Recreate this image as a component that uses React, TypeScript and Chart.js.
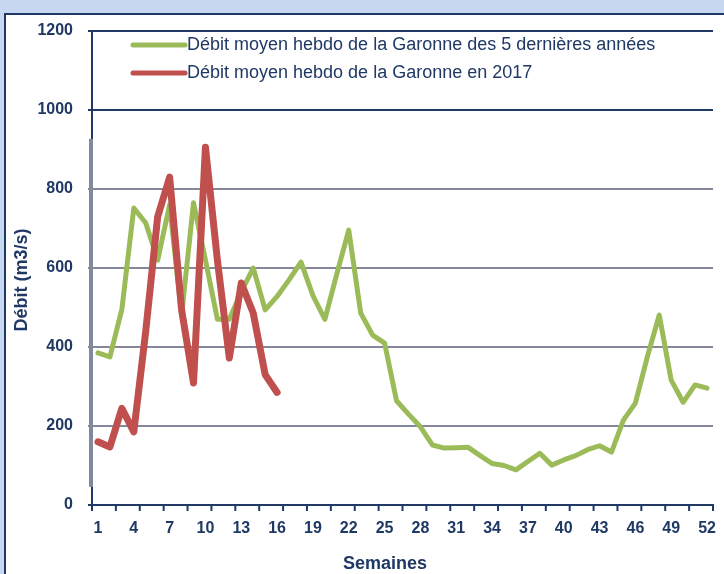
import React, { useEffect, useRef } from "react";
import { Chart, registerables } from "chart.js";

Chart.register(...registerables);

const weeks: string[] = Array.from({ length: 52 }, (_, i) => String(i + 1));

const greenLabel = "Débit moyen hebdo de la Garonne des 5 dernières années";
const redLabel = "Débit moyen hebdo de la Garonne en 2017";
const xTitle = "Semaines";
const yTitle = "Débit (m3/s)";

const greenValues: number[] = [
  385, 375, 495, 752, 714, 620, 760, 480, 765, 620,
  470, 470, 540, 600, 494, 528, 570, 615, 530, 470,
  585, 696, 486, 430, 410, 264, 230, 198, 152, 144,
  145, 146, 125, 105, 100, 89, 110, 131, 101, 114,
  125, 140, 150, 134, 215, 258, 375, 481, 316, 260,
  304, 296,
];

const redValues: number[] = [
  160, 147, 245, 185, 440, 730, 830, 495, 309, 906,
  620, 372, 562, 486, 330, 285,
];

const yTicks: number[] = [0, 200, 400, 600, 800, 1000, 1200];

const NAVY = "#1f3864";
const GRAY = "#85889a";
const GREEN = "#9bbb59";
const RED = "#c0504d";
const FONT = "'Liberation Sans', Arial, sans-serif";

const decorPlugin = {
  id: "decor",
  afterDraw(chart: any) {
    const { ctx, chartArea, scales } = chart;
    const xs = scales.x;
    const ys = scales.y;
    const band = xs.getPixelForValue(1) - xs.getPixelForValue(0);
    ctx.save();
    // x tick marks every 2 weeks (between categories)
    ctx.strokeStyle = NAVY;
    ctx.lineWidth = 2;
    for (let k = 0; k <= weeks.length / 2; k++) {
      const x = xs.getPixelForValue(0) - band / 2 + k * 2 * band;
      ctx.beginPath();
      ctx.moveTo(x, chartArea.bottom);
      ctx.lineTo(x, chartArea.bottom + 6);
      ctx.stroke();
    }
    // gray vertical axis fragment
    ctx.fillStyle = GRAY;
    const yTop = ys.getPixelForValue(927);
    const yBot = ys.getPixelForValue(46);
    ctx.fillRect(chartArea.left - 3, yTop, 4, yBot - yTop);

    // legend
    const items = chart.data.datasets.map((d: any) => ({ label: d.label, color: d.borderColor }));
    const lx0 = chartArea.left + 41;
    const lx1 = chartArea.left + 93;
    items.forEach((it: any, i: number) => {
      const y = chartArea.top + 14 + i * 28;
      ctx.strokeStyle = it.color;
      ctx.lineWidth = 5;
      ctx.lineCap = "round";
      ctx.beginPath();
      ctx.moveTo(lx0, y);
      ctx.lineTo(lx1, y);
      ctx.stroke();
      ctx.fillStyle = NAVY;
      ctx.font = `18px ${FONT}`;
      ctx.textAlign = "left";
      ctx.textBaseline = "middle";
      ctx.fillText(it.label, lx1 + 2, y);
    });

    // axis titles
    ctx.fillStyle = NAVY;
    ctx.textAlign = "center";
    ctx.textBaseline = "middle";
    ctx.font = `bold 18px ${FONT}`;
    ctx.fillText(xTitle, 385, chartArea.bottom + 59);
    ctx.translate(22, 280);
    ctx.rotate(-Math.PI / 2);
    ctx.font = `bold 18px ${FONT}`;
    ctx.fillText(yTitle, 0, 0);
    ctx.restore();
  },
};

export default function App() {
  const canvasRef = useRef<HTMLCanvasElement | null>(null);

  useEffect(() => {
    if (!canvasRef.current) return;
    const chart = new Chart(canvasRef.current, {
      type: "line",
      data: {
        labels: weeks,
        datasets: [
          {
            label: greenLabel,
            data: greenValues,
            borderColor: GREEN,
            backgroundColor: GREEN,
            borderWidth: 5,
            pointRadius: 0,
            tension: 0,
            borderJoinStyle: "round",
            borderCapStyle: "round",
            order: 2,
          },
          {
            label: redLabel,
            data: redValues,
            borderColor: RED,
            backgroundColor: RED,
            borderWidth: 7,
            pointRadius: 0,
            tension: 0,
            borderJoinStyle: "round",
            borderCapStyle: "round",
            order: 1,
          },
        ],
      },
      options: {
        animation: false,
        responsive: false,
        maintainAspectRatio: false,
        layout: { padding: { top: 31, right: 11, bottom: 0, left: 0 } },
        plugins: {
          legend: { display: false },
          tooltip: { enabled: false },
          title: { display: false },
        },
        scales: {
          x: {
            type: "category",
            offset: true,
            afterFit: (s: any) => {
              s.height = 69;
            },
            grid: { display: false, drawTicks: true, tickLength: 14 },
            border: { display: true, color: NAVY, width: 2 },
            ticks: {
              autoSkip: false,
              maxRotation: 0,
              padding: 0,
              color: NAVY,
              font: { family: FONT, size: 16, weight: "bold" },
              callback: (_v: any, i: number) => (i % 3 === 0 ? weeks[i] : ""),
            },
            title: { display: false },
          },
          y: {
            min: 0,
            max: 1200,
            afterFit: (s: any) => {
              s.width = 92;
            },
            afterBuildTicks: (s: any) => {
              s.ticks = yTicks.map((v) => ({ value: v }));
            },
            grid: {
              color: (c: any) => (c.tick && (c.tick.value >= 1000 || c.tick.value === 0) ? NAVY : GRAY),
              lineWidth: 2,
              tickLength: 4,
            },
            border: { display: true, color: NAVY, width: 2 },
            ticks: {
              padding: 15,
              color: NAVY,
              font: { family: FONT, size: 16, weight: "bold" },
              callback: (v: any) => String(v),
            },
            title: { display: false },
          },
        },
      },
      plugins: [decorPlugin],
    });
    return () => chart.destroy();
  }, []);

  return (
    <div style={{ position: "fixed", left: 0, top: 0, width: 724, height: 574, background: "#c6d9f0", overflow: "hidden" }}>
      <div
        style={{
          position: "absolute",
          left: 4,
          top: 13,
          width: 760,
          height: 620,
          background: "#ffffff",
          border: `2px solid ${NAVY}`,
          boxSizing: "border-box",
        }}
      />
      <canvas ref={canvasRef} width={724} height={574} style={{ position: "absolute", left: 0, top: 0, width: 724, height: 574 }} />
    </div>
  );
}
